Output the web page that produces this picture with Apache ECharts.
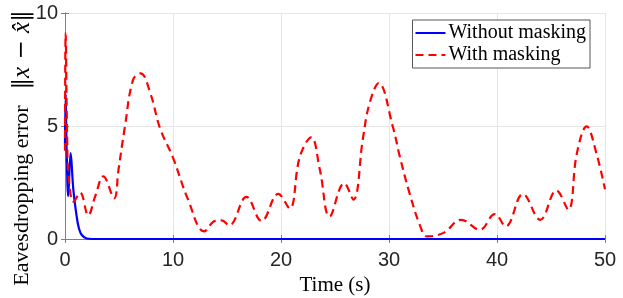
<!DOCTYPE html>
<html>
<head>
<meta charset="utf-8">
<script src="https://cdn.jsdelivr.net/npm/echarts@6/dist/echarts.min.js"></script>
<style>
html,body{margin:0;padding:0;background:#fff;}
#chart{width:623px;height:298px;}
</style>
</head>
<body>
<div id="chart"></div>
<script>
// Time samples and values
const blueT = [0, 0.06, 0.15, 0.3, 0.52, 0.77, 1.08, 1.3, 1.54, 2.0, 2.5, 50];
const blueV = [4.2, 6.4, 4.0, 1.9, 3.8, 2.2, 1.0, 0.45, 0.19, 0.02, 0, 0];

const redT = [0, 0.06, 0.2, 0.35, 0.8, 1.4, 2.15, 2.8, 3.55, 4.55, 4.95, 5.55, 6.3, 7.0, 7.9, 8.8, 10.0, 11.4, 12.9, 13.9, 14.5, 15.2, 16.8, 18.2, 19.75, 20.8, 21.75, 22.8, 23.6, 24.5, 25.85, 26.7, 27.6, 28.2, 29.05, 30.35, 31.0, 31.9, 32.9, 33.5, 35.0, 36.7, 38.4, 39.8, 40.8, 42.4, 44.0, 45.5, 46.6, 47.4, 48.3, 49.2, 50];
const redV = [3.9, 9.1, 4.5, 2.7, 1.65, 2.05, 1.05, 1.9, 2.77, 1.8, 3.06, 4.98, 7.04, 7.33, 6.45, 4.9, 3.6, 1.74, 0.34, 0.8, 0.82, 0.6, 1.86, 0.8, 2.0, 1.35, 3.65, 4.5, 3.06, 1.0, 2.47, 1.74, 4.5, 6.0, 6.9, 4.98, 3.65, 2.03, 0.56, 0.12, 0.26, 0.85, 0.41, 1.1, 0.56, 1.99, 0.85, 2.15, 1.3, 3.8, 4.98, 3.8, 2.2];

const seriesNames = ['Without masking', 'With masking'];
const xTicks = [0, 10, 20, 30, 40, 50];
const yTicks = [0, 5, 10];
const xLabel = 'Time (s)';

const pair = (t, v) => t.map((x, i) => [x, v[i]]);

const axisColor = '#808080';
const gridColor = '#e6e6e6';
const tickFont = {fontFamily: 'Liberation Sans, Arial, sans-serif', fontSize: 20, color: '#262626'};

const chart = echarts.init(document.getElementById('chart'), null, {renderer: 'canvas'});
chart.setOption({
  animation: false,
  backgroundColor: '#fff',
  grid: {left: 65, right: 18, top: 13, bottom: 59, containLabel: false, outerBoundsMode: 'none'},
  legend: {
    orient: 'vertical',
    right: 33, top: 20,
    padding: [3, 4, 3, 2],
    itemGap: 2,
    itemWidth: 30, itemHeight: 14,
    borderColor: '#555', borderWidth: 1, backgroundColor: '#fff',
    itemStyle: {opacity: 0},
    textStyle: {fontFamily: 'Liberation Serif, serif', fontSize: 20, color: '#000', padding: [0, 0, 0, -2]},
    data: seriesNames
  },
  xAxis: [{
    type: 'value', min: xTicks[0], max: xTicks[xTicks.length - 1], interval: 10,
    name: xLabel, nameLocation: 'middle', nameGap: 31,
    nameTextStyle: {fontFamily: 'Liberation Serif, serif', fontSize: 21, color: '#000'},
    axisLine: {show: true, lineStyle: {color: axisColor, width: 1}},
    axisTick: {show: true, inside: true, length: 4, lineStyle: {color: axisColor}},
    axisLabel: Object.assign({margin: 11}, tickFont),
    splitLine: {show: true, lineStyle: {color: gridColor, width: 1}}
  }, {
    type: 'value', position: 'top', min: xTicks[0], max: xTicks[xTicks.length - 1], interval: 10,
    axisLine: {show: true, lineStyle: {color: axisColor, width: 1}},
    axisTick: {show: true, inside: true, length: 4, lineStyle: {color: axisColor}},
    axisLabel: {show: false}, splitLine: {show: false}
  }],
  yAxis: [{
    type: 'value', min: yTicks[0], max: yTicks[yTicks.length - 1], interval: 5,
    axisLine: {show: true, lineStyle: {color: axisColor, width: 1}},
    axisTick: {show: true, inside: true, length: 4, lineStyle: {color: axisColor}},
    axisLabel: Object.assign({margin: 7}, tickFont),
    splitLine: {show: true, lineStyle: {color: gridColor, width: 1}}
  }, {
    type: 'value', position: 'right', min: yTicks[0], max: yTicks[yTicks.length - 1], interval: 5,
    axisLine: {show: true, lineStyle: {color: axisColor, width: 1}},
    axisTick: {show: true, inside: true, length: 4, lineStyle: {color: axisColor}},
    axisLabel: {show: false}, splitLine: {show: false}
  }],
  graphic: [{
    type: 'text', x: 22, y: 148, rotation: Math.PI / 2,
    style: {
      text: '{r|Eavesdropping error}{s| }{m|‖}{i|x}{m| − }{i|x̂}{m|‖}',
      align: 'center', verticalAlign: 'middle', fill: '#000',
      rich: {
        r: {fontFamily: 'Liberation Serif, serif', fontSize: 22, fill: '#000'},
        s: {fontFamily: 'Liberation Serif, serif', fontSize: 21, width: 16},
        m: {fontFamily: 'DejaVu Serif, serif', fontSize: 23, fill: '#000'},
        i: {fontFamily: 'Liberation Serif, serif', fontStyle: 'italic', fontSize: 25, fill: '#000'}
      }
    }
  }],
  series: [{
    name: seriesNames[0], type: 'line', xAxisIndex: 0, yAxisIndex: 0,
    data: pair(blueT, blueV), smooth: 0.4, symbol: 'none', clip: false,
    lineStyle: {color: '#0000ff', width: 2.2}, itemStyle: {color: '#0000ff'}
  }, {
    name: seriesNames[1], type: 'line', xAxisIndex: 0, yAxisIndex: 0,
    data: pair(redT, redV), smooth: 0.4, symbol: 'none', clip: false,
    lineStyle: {color: '#ff0000', width: 2.2, type: [8, 5]}, itemStyle: {color: '#ff0000'}
  }]
});
</script>
</body>
</html>
